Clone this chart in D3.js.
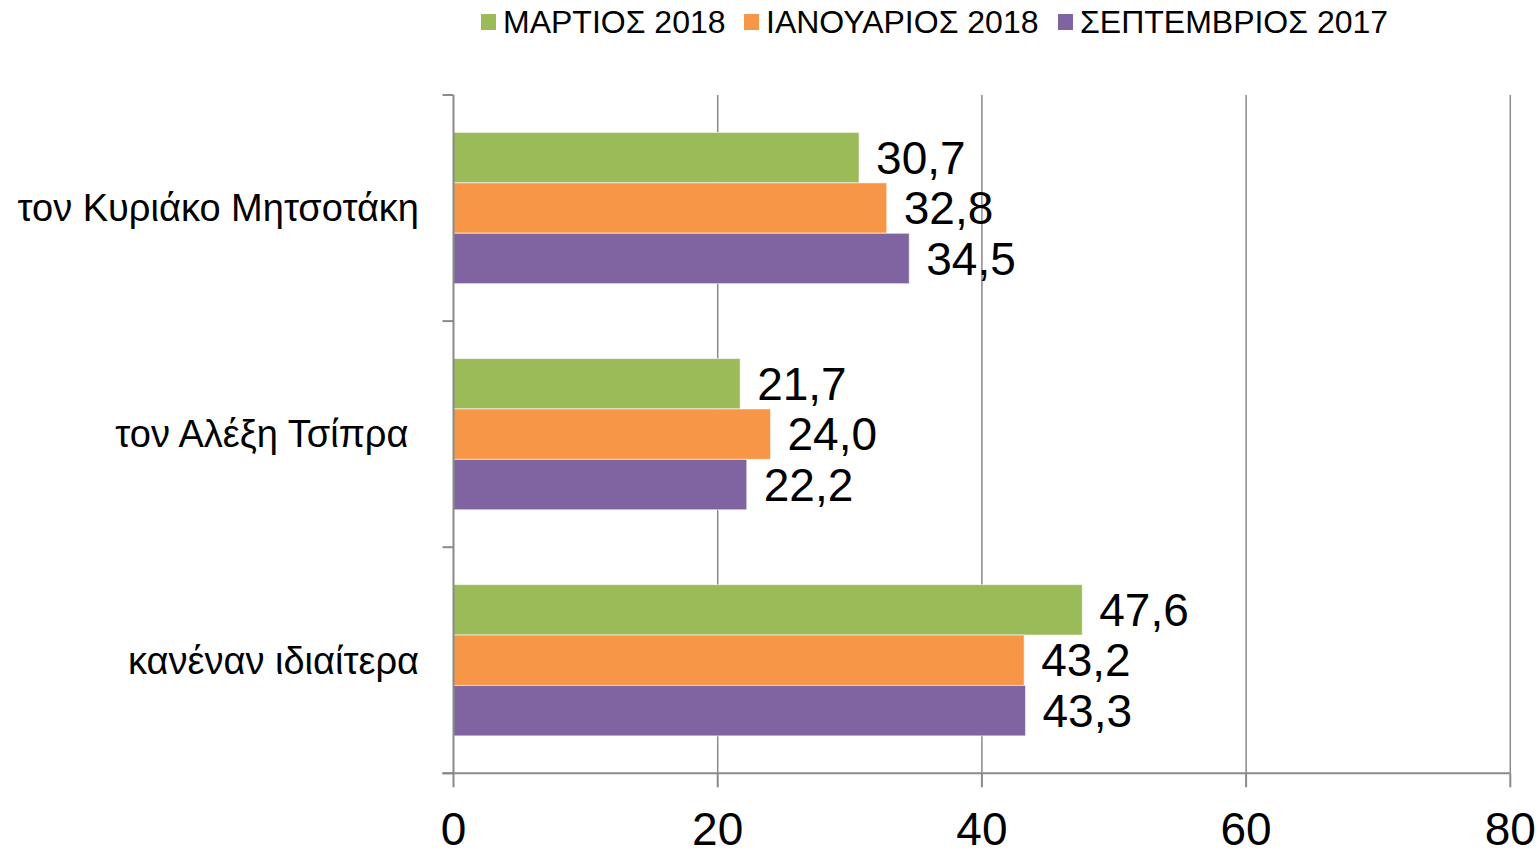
<!DOCTYPE html>
<html><head><meta charset="utf-8">
<script src="https://cdn.jsdelivr.net/npm/d3@7"></script>
<style>
html,body{margin:0;padding:0;background:#fff;}
svg{display:block;font-family:Arial,"Liberation Sans",sans-serif;}
</style></head>
<body>
<svg id="chart" width="1540" height="850"></svg>
<script>
const categories = ["τον Κυριάκο Μητσοτάκη", "τον Αλέξη Τσίπρα ", "κανέναν ιδιαίτερα"];
const seriesNames = ["ΜΑΡΤΙΟΣ 2018", "ΙΑΝΟΥΑΡΙΟΣ 2018", "ΣΕΠΤΕΜΒΡΙΟΣ 2017"];
const march2018 = [30.7, 21.7, 47.6];
const january2018 = [32.8, 24.0, 43.2];
const september2017 = [34.5, 22.2, 43.3];
const seriesValues = [march2018, january2018, september2017];
const xTicks = [0, 20, 40, 60, 80];
const colors = ["#9BBB59", "#F79646", "#8064A2"];

(function () {
const svg = d3.select("#chart");
const pLeft = 453.5, pRight = 1510.3, pTop = 95, pBottom = 773.3;

const x = d3.scaleLinear().domain([0, 80]).range([pLeft, pRight]);
const y = d3.scaleBand().domain(categories).range([pTop, pBottom]).paddingInner(0.331).paddingOuter(0.1655);
const ySub = d3.scaleBand().domain(d3.range(seriesNames.length)).range([0, y.bandwidth()]);

const gridColor = "#8a8a8a";

svg.append("g").selectAll("line").data(xTicks.slice(1)).join("line")
  .attr("x1", d => x(d)).attr("x2", d => x(d))
  .attr("y1", pTop).attr("y2", pBottom)
  .attr("stroke", gridColor).attr("stroke-width", 1.5);

const fmt = v => v.toFixed(1).replace(".", ",");
const data = [];
categories.forEach((c, ci) => seriesValues.forEach((vals, si) => data.push({c, si, v: vals[ci]})));

svg.append("g").selectAll("rect").data(data).join("rect")
  .attr("x", x(0))
  .attr("y", d => y(d.c) + ySub(d.si))
  .attr("width", d => x(d.v) - x(0))
  .attr("height", ySub.bandwidth())
  .attr("fill", d => colors[d.si])
  .attr("stroke", "rgba(255,255,255,0.6)")
  .attr("stroke-width", 1);

svg.append("g").selectAll("text").data(data).join("text")
  .attr("x", d => x(d.v) + 17)
  .attr("y", d => y(d.c) + ySub(d.si) + ySub.bandwidth() / 2)
  .attr("dy", "0.35em")
  .attr("font-size", 46)
  .attr("fill", "#000")
  .text(d => fmt(d.v));

const yAxisG = svg.append("g");
yAxisG.append("line").attr("x1", pLeft).attr("x2", pLeft).attr("y1", pTop).attr("y2", pBottom)
  .attr("stroke", gridColor).attr("stroke-width", 2);
const bounds = categories.map(c => y(c) - y.step() * y.paddingInner() / 2).concat([pBottom]);
bounds[0] = pTop;
yAxisG.selectAll("line.tick").data(bounds).join("line").attr("class", "tick")
  .attr("x1", pLeft - 11).attr("x2", pLeft).attr("y1", d => d).attr("y2", d => d)
  .attr("stroke", gridColor).attr("stroke-width", 2);
yAxisG.selectAll("text").data(categories).join("text")
  .attr("x", 419)
  .attr("y", d => y(d) + y.bandwidth() / 2)
  .attr("dy", "0.35em")
  .attr("text-anchor", "end")
  .attr("font-size", 38)
  .style("white-space", "pre")
  .attr("fill", "#000")
  .text(d => d);

const xAxisG = svg.append("g");
xAxisG.append("line").attr("x1", pLeft - 11).attr("x2", pRight).attr("y1", pBottom).attr("y2", pBottom)
  .attr("stroke", gridColor).attr("stroke-width", 2);
xAxisG.selectAll("line.tick").data(xTicks).join("line").attr("class", "tick")
  .attr("x1", d => x(d)).attr("x2", d => x(d)).attr("y1", pBottom).attr("y2", pBottom + 14)
  .attr("stroke", gridColor).attr("stroke-width", 2);
xAxisG.selectAll("text").data(xTicks).join("text")
  .attr("x", d => x(d))
  .attr("y", 845)
  .attr("text-anchor", "middle")
  .attr("font-size", 46)
  .attr("fill", "#000")
  .text(d => d);

const legendX = [481, 744, 1058];
const lg = svg.append("g").selectAll("g").data(seriesNames).join("g")
  .attr("transform", (d, i) => `translate(${legendX[i]},22)`);
lg.append("rect").attr("x", 0).attr("y", -8).attr("width", 15).attr("height", 16)
  .attr("fill", (d, i) => colors[i]);
lg.append("text").attr("x", 22).attr("y", 0).attr("dy", "0.35em")
  .attr("font-size", 32).attr("fill", "#000").text(d => d);
})();
</script>
</body></html>
